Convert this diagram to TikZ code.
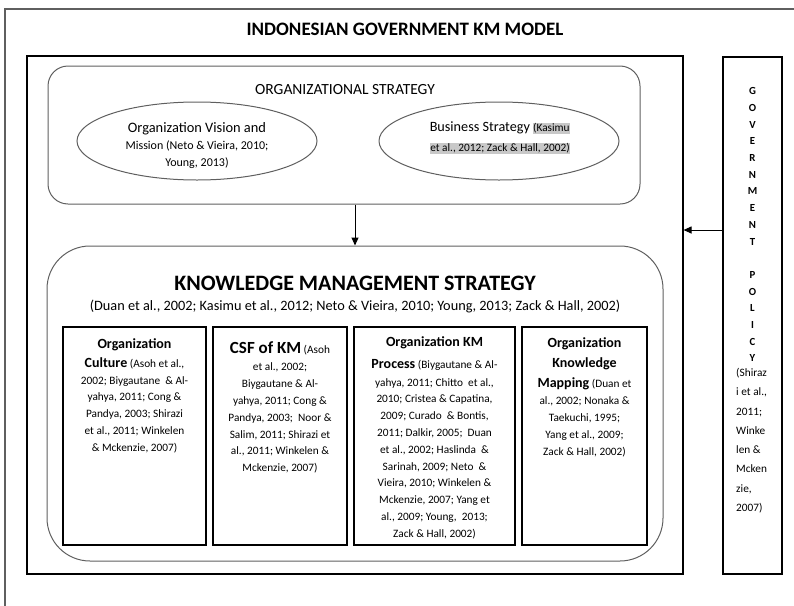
\documentclass[tikz,border=0pt]{standalone}
\usepackage{fontspec}
\setmainfont{Carlito}
\usetikzlibrary{shapes.geometric,arrows.meta}
\definecolor{hl}{RGB}{200,200,200}
\definecolor{framegray}{RGB}{95,95,95}
\newcommand{\hlt}[1]{{\setlength{\fboxsep}{0.6pt}\colorbox{hl}{#1}}}
\newcommand{\hd}[1]{{\fontsize{14}{16.8}\selectfont\bfseries #1}}
\begin{document}
\begin{tikzpicture}[x=1pt,y=-1pt,
  blackbox/.style={draw=black, line width=1.1pt, inner sep=0pt},
  roundbox/.style={draw=framegray, line width=1pt, inner sep=0pt},
  oval/.style={ellipse, draw=framegray, line width=1pt, inner sep=0pt},
  arr/.style={-{Triangle[length=8pt,width=7pt]}, line width=1pt},
  cite/.style={font=\fontsize{11.3}{16.8}\selectfont, align=center, inner sep=0pt, anchor=north},
  lbl/.style={inner sep=0pt},
]
\useasboundingbox (0,0) rectangle (794,605);
% outer frame (runs off the page on the right and bottom)
\draw[framegray, line width=1.2pt] (5,9) rectangle (802,612);
\node[lbl, font=\fontsize{19}{22}\selectfont\bfseries] (title) at (405,29) {INDONESIAN GOVERNMENT KM MODEL};

% main rectangle
\node[blackbox, minimum width=656pt, minimum height=518pt] (mid) at (355,315) {};

% organizational strategy
\node[roundbox, rounded corners=20pt, minimum width=592pt, minimum height=138pt] (org) at (344,135) {};
\node[lbl, font=\fontsize{15.5}{18}\selectfont] (orgt) at (345,90) {ORGANIZATIONAL STRATEGY};
\node[oval, minimum width=240pt, minimum height=78pt] (vis) at (197,141) {};
\node[lbl, align=center, font=\fontsize{12}{17}\selectfont] (vist) at (197,145.5)
  {{\fontsize{14.4}{17}\selectfont Organization Vision and}\\
   Mission (Neto \& Vieira, 2010;\\
   Young, 2013)};
\node[oval, minimum width=240pt, minimum height=78pt] (bus) at (499,141) {};
\node[lbl, align=center, font=\fontsize{11.3}{20}\selectfont] (bust) at (500,138)
  {{\fontsize{14.2}{20}\selectfont Business Strategy} \hlt{(Kasimu}\\
   \hlt{et al., 2012; Zack \& Hall, 2002)}};

% knowledge management strategy
\node[roundbox, rounded corners=43pt, minimum width=616pt, minimum height=315pt] (km) at (355,403.5) {};
\node[lbl, font=\fontsize{22}{26}\selectfont\bfseries] (kmt) at (355,283) {KNOWLEDGE MANAGEMENT STRATEGY};
\node[lbl, font=\fontsize{14.3}{17}\selectfont] (kmc) at (355,306) {(Duan et al., 2002; Kasimu et al., 2012; Neto \& Vieira, 2010; Young, 2013; Zack \& Hall, 2002)};

\node[blackbox, minimum width=143pt, minimum height=218pt] (b1) at (134.5,436) {};
\node[blackbox, minimum width=134pt, minimum height=218pt] (b2) at (280,436) {};
\node[blackbox, minimum width=161pt, minimum height=218pt] (b3) at (434.5,436) {};
\node[blackbox, minimum width=125pt, minimum height=218pt] (b4) at (584.5,436) {};

\node[cite] (t1) at (134.5,338)
  {\hd{Organization}\\[2.5pt]
   \hd{Culture} (Asoh et al.,\\
   2002; Biygautane \ \& Al-\\
   yahya, 2011; Cong \&\\
   Pandya, 2003; Shirazi\\
   et al., 2011; Winkelen\\
   \& Mckenzie, 2007)};
\node[cite] (t2) at (280,341)
  {{\fontsize{17}{19}\selectfont\bfseries CSF of KM} (Asoh\\[1pt]
   et al., 2002;\\
   Biygautane \& Al-\\
   yahya, 2011; Cong \&\\
   Pandya, 2003; \ Noor \&\\
   Salim, 2011; Shirazi et\\
   al., 2011; Winkelen \&\\
   Mckenzie, 2007)};
\node[cite] (t3) at (434.5,336.5)
  {\hd{Organization KM}\\[5pt]
   \hd{Process} (Biygautane \& Al-\\[1pt]
   yahya, 2011; Chitto \ et al.,\\
   2010; Cristea \& Capatina,\\
   2009; Curado \ \& Bontis,\\
   2011; Dalkir, 2005; \ Duan\\
   et al., 2002; Haslinda \ \&\\
   Sarinah, 2009; Neto \ \&\\
   Vieira, 2010; Winkelen \&\\
   Mckenzie, 2007; Yang et\\
   al., 2009; Young, \ 2013;\\
   Zack \& Hall, 2002)};
\node[cite] (t4) at (584.5,337.5)
  {\hd{Organization}\\[3pt]
   \hd{Knowledge}\\[3pt]
   \hd{Mapping} (Duan et\\[1pt]
   al., 2002; Nonaka \&\\
   Taekuchi, 1995;\\
   Yang et al., 2009;\\
   Zack \& Hall, 2002)};

% government policy
\node[blackbox, minimum width=59pt, minimum height=517pt] (gov) at (752.5,315.5) {};
\node[lbl, anchor=north, align=center, font=\fontsize{10.8}{16.7}\selectfont\bfseries] (govt) at (752.5,87.5)
  {G\\O\\V\\E\\R\\N\\M\\E\\N\\T\\[16.7pt]P\\O\\L\\I\\C\\Y};
\node[lbl, anchor=north west, align=left, font=\fontsize{11.3}{19.3}\selectfont] (govc) at (736,368)
  {(Shiraz\\i et al.,\\2011;\\Winke\\len \&\\Mcken\\zie,\\2007)};

% connectors
\coordinate (ay) at (0,230);
\draw[arr] (km.north |- org.south) -- (km.north);
\draw[arr] (gov.west |- ay) -- (mid.east |- ay);
\end{tikzpicture}
\end{document}
